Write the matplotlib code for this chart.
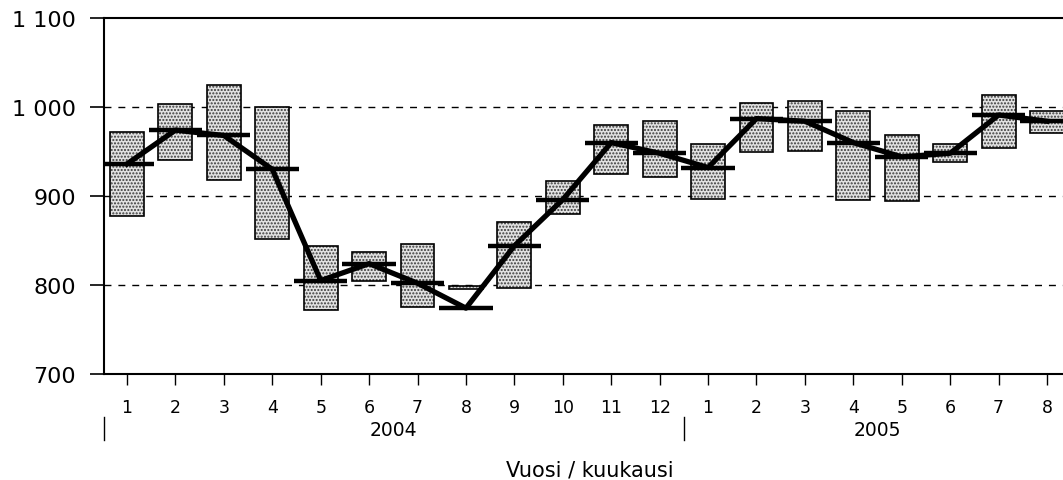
"""
Monthly range (min-max box), mean marker and mean line, 2004-2005.
"""

import numpy as np
import matplotlib.pyplot as plt
import matplotlib.transforms as mtransforms

month_labels = [str(m) for m in range(1, 13)] + [str(m) for m in range(1, 9)]
years = ["2004", "2005"]
year_months = [12, 8]

highs = [972, 1003, 1025, 1000, 844, 837, 846, 799, 871, 917,
         980, 984, 958, 1004, 1007, 995, 969, 958, 1013, 995]
lows = [878, 941, 918, 852, 772, 805, 775, 795, 797, 880,
        925, 921, 897, 950, 951, 895, 894, 938, 954, 971]
means = [936, 974, 968, 930, 805, 824, 802, 774, 844, 896,
         960, 948, 932, 987, 984, 960, 944, 948, 991, 984]

y_ticks = [700, 800, 900, 1000, 1100]
y_tick_labels = ["700", "800", "900", "1 000", "1 100"]

fig = plt.figure(figsize=(10.63, 4.81), dpi=100)
ax = fig.add_axes([104 / 1063, 1 - 375 / 481, 1 - 104 / 1063, 356 / 481])

x = np.arange(len(month_labels))
highs = np.array(highs)
lows = np.array(lows)
means = np.array(means)

# stippled range boxes: hatch layer, then outline
ax.bar(x, highs - lows, bottom=lows, width=0.7, facecolor="#e2e2e2",
       edgecolor="#3a3a3a", hatch=".....", linewidth=0, zorder=2)
ax.bar(x, highs - lows, bottom=lows, width=0.7, fill=False,
       edgecolor="black", linewidth=1.2, zorder=3)

# mean markers and line
ax.hlines(means, x - 0.55, x + 0.55, color="black", linewidth=3.2, zorder=4)
ax.plot(x, means, color="black", linewidth=3.8, zorder=5,
        solid_joinstyle="round")

for val in [800, 900, 1000]:
    ax.axhline(val, color="black", linewidth=1.0, linestyle=(0, (5, 5)),
               zorder=1)

ax.set_ylim(700, 1100)
ax.set_xlim(-0.475, 19.33)
ax.set_yticks(y_ticks)
ax.set_yticklabels(y_tick_labels, fontsize=16)
ax.set_xticks(x)
ax.set_xticklabels(month_labels, fontsize=12.5)
ax.tick_params(axis="y", length=10, width=1.2, pad=10)
ax.tick_params(axis="x", length=8, width=1.0, pad=9)

for side in ["left", "bottom", "top"]:
    ax.spines[side].set_linewidth(1.5)
ax.spines["right"].set_visible(False)

# year labels and separators below the axis
trans = mtransforms.blended_transform_factory(ax.transData, ax.transAxes)
start = 0
for year, n in zip(years, year_months):
    center = start + (n - 1) / 2
    ax.text(center, -0.157, year, transform=trans, ha="center",
            va="center", fontsize=13.5)
    start += n
for sep in [-0.475, 11.5]:
    ax.plot([sep, sep], [-0.121, -0.185], transform=trans, color="black",
            linewidth=1.0, clip_on=False)

fig.text(590 / 1063, 1 - 471 / 481, "Vuosi / kuukausi", ha="center",
         va="center", fontsize=15)

fig.savefig("out.png", dpi=100)
